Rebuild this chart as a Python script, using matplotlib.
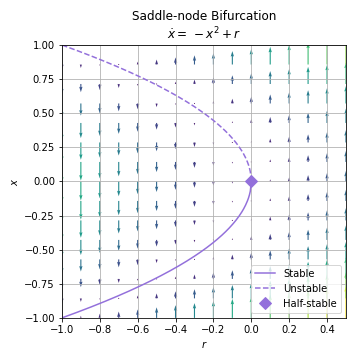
import numpy as np
import matplotlib
matplotlib.use("Agg")
import matplotlib.pyplot as plt

# grid of the vector field
r_grid = np.linspace(-1.0, 0.5, 16)
x_grid = np.linspace(-1.0, 1.0, 15)
# branch parameter
r_branch = np.linspace(-1.0, 0.0, 200)
half_stable_r = [0.0]
half_stable_x = [0.0]

title = "Saddle-node Bifurcation\n$\\dot{x} =\\, -x^2 + r$"
color = "mediumpurple"

fig = plt.figure(figsize=(5, 5), dpi=72)
ax = fig.add_axes([0.172, 0.117, 0.789, 0.758])

R, X = np.meshgrid(r_grid, x_grid)
U = np.zeros_like(R)
V = R + X**2
M = np.abs(V)
ax.quiver(R, X, U, V, M, cmap="viridis")

ax.plot(r_branch, -np.sqrt(-r_branch), color=color, label="Stable")
ax.plot(r_branch, np.sqrt(-r_branch), color=color, ls="--", label="Unstable")
ax.plot(half_stable_r, half_stable_x, "D", color=color, markersize=8,
        ls="none", label="Half-stable")

ax.set_xlim(-1.0, 0.5)
ax.set_ylim(-1.0, 1.0)
ax.set_xlabel("$r$")
ax.set_ylabel("$x$")
ax.set_title(title)
ax.grid(True)
ax.legend(loc="lower right")

fig.savefig("out.png", dpi=72)
